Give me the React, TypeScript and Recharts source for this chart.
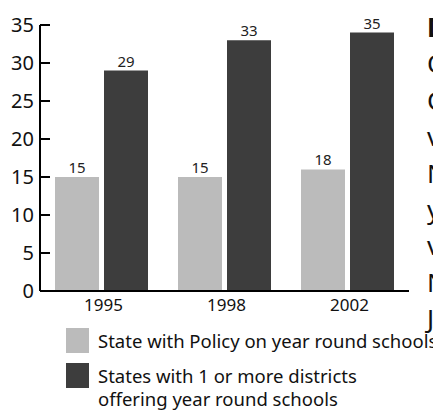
import React from 'react';
import { BarChart, Bar, XAxis, YAxis, LabelList, Legend } from 'recharts';

const years = ['1995', '1998', '2002'];
const slotEnds = [1, 2, 3];
const policyValues = [15, 15, 16];
const districtValues = [29, 33, 34];
const policyLabels = ['15', '15', '18'];
const districtLabels = ['29', '33', '35'];
const yTicks = [0, 5, 10, 15, 20, 25, 30, 35];
const seriesNames = [
  'State with Policy on year round schools',
  'States with 1 or more districts offering year round schools',
];
const legendLines = [
  ['State with Policy on year round schools'],
  ['States with 1 or more districts', 'offering year round schools'],
];
const sideLetters = ['D', 'O', 'C', 'v', 'N', 'y', 'v', 'N', 'J'];

const LIGHT = '#bbbbbb';
const DARK = '#3d3d3d';
const FONT = '"Noto Sans", sans-serif';

const data = years.map((year, i) => ({
  year,
  slot: slotEnds[i],
  policy: policyValues[i],
  districts: districtValues[i],
  policyLabel: policyLabels[i],
  districtLabel: districtLabels[i],
}));

const XTick = (props: any) => {
  const { x, y, payload } = props;
  return (
    <text x={Number(x) + 2} y={Number(y) + 20} textAnchor="middle" fontSize={17} fill="#111" fontFamily={FONT}>
      {payload.value}
    </text>
  );
};

const LegendContent = (props: any) => {
  const payload = props.payload || [];
  return (
    <svg width={433} height={92} style={{ display: 'block', overflow: 'hidden' }}>
      {payload.map((entry: any, i: number) => {
        const top = i === 0 ? 6 : 41;
        const lines = legendLines[i] || [entry.value];
        return (
          <g key={i}>
            <rect x={66} y={top} width={23} height={25} fill={entry.color} />
            {lines.map((ln, j) => (
              <text
                key={j}
                x={98}
                y={top + 20 + j * 23}
                fontSize={18.5}
                fill="#111"
                fontFamily={FONT}
              >
                {ln}
              </text>
            ))}
          </g>
        );
      })}
    </svg>
  );
};

export default function App() {
  return (
    <div
      style={{
        position: 'fixed',
        left: 0,
        top: 0,
        width: 433,
        height: 414,
        overflow: 'hidden',
        background: '#fff',
        fontFamily: FONT,
      }}
    >
      <BarChart
        width={433}
        height={414}
        data={data}
        margin={{ top: 25, right: 24, bottom: 93, left: 0 }}
        barSize={44}
        barGap={5}
        barCategoryGap="12%"
      >
        <XAxis
          xAxisId="bounds"
          dataKey="slot"
          type="number"
          domain={[0, 3]}
          allowDataOverflow
          ticks={slotEnds}
          interval={0}
          height={0}
          tickSize={-9}
          tick={false}
          axisLine={false}
          tickLine={{ stroke: '#000', strokeWidth: 2 }}
        />
        <XAxis
          dataKey="year"
          height={30}
          tickSize={0}
          tickMargin={0}
          tickLine={false}
          axisLine={{ stroke: '#000', strokeWidth: 2 }}
          tick={XTick}
          interval={0}
        />
        <YAxis
          width={40}
          domain={[0, 35]}
          ticks={yTicks}
          interval={0}
          tickSize={-10}
          tickMargin={16}
          axisLine={{ stroke: '#000', strokeWidth: 2 }}
          tickLine={{ stroke: '#000', strokeWidth: 2 }}
          tick={{ fontSize: 20, fill: '#111', fontFamily: FONT }}
        />
        <Legend
          layout="vertical"
          align="center"
          verticalAlign="middle"
          wrapperStyle={{ top: 322, left: 0, width: 433, height: 92 }}
          content={<LegendContent />}
        />
        <Bar dataKey="policy" name={seriesNames[0]} fill={LIGHT} isAnimationActive={false}>
          <LabelList
            dataKey="policyLabel"
            position="top"
            offset={4}
            style={{ fontSize: 15, fill: '#222', fontFamily: FONT }}
          />
        </Bar>
        <Bar dataKey="districts" name={seriesNames[1]} fill={DARK} isAnimationActive={false}>
          <LabelList
            dataKey="districtLabel"
            position="top"
            offset={4}
            style={{ fontSize: 15, fill: '#222', fontFamily: FONT }}
          />
        </Bar>
      </BarChart>
      <svg
        width={433}
        height={414}
        style={{ position: 'absolute', left: 0, top: 0, pointerEvents: 'none' }}
      >
        {sideLetters.map((ch, i) => (
          <text
            key={i}
            x={427}
            y={37 + i * 36.4}
            fontSize={26}
            fontWeight={i === 0 ? 700 : 400}
            fill="#111"
            fontFamily={FONT}
          >
            {ch}
          </text>
        ))}
      </svg>
    </div>
  );
}
